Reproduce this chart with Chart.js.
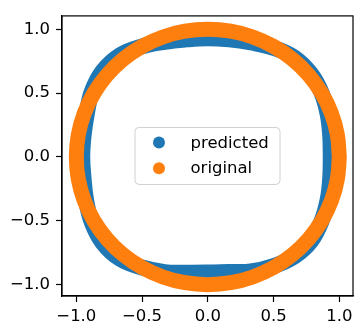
<!DOCTYPE html>
<html>
<head>
<meta charset="utf-8">
<script src="https://cdn.jsdelivr.net/npm/chart.js@4/dist/chart.umd.min.js"></script>
<style>
  html, body { margin: 0; padding: 0; background: #fff; }
  #wrap { width: 363px; height: 332px; }
</style>
</head>
<body>
<div id="wrap"><canvas id="myScatter"></canvas></div>
<script>
// values, going round anticlockwise from the right
var predictedX = [0.935, 0.931, 0.912, 0.866, 0.781, 0.656, 0.495, 0.327, 0.162, 0.000,
                  -0.162, -0.328, -0.500, -0.668, -0.800, -0.883, -0.921, -0.945, -0.955,
                  -0.945, -0.926, -0.883, -0.800, -0.668, -0.500, -0.328, -0.160, 0.000,
                  0.158, 0.327, 0.495, 0.656, 0.785, 0.866, 0.912, 0.931, 0.935];
var predictedY = [0.000, 0.164, 0.332, 0.500, 0.656, 0.781, 0.857, 0.897, 0.921, 0.930,
                  0.921, 0.902, 0.866, 0.797, 0.672, 0.510, 0.335, 0.167, 0.000,
                  -0.167, -0.337, -0.510, -0.672, -0.797, -0.866, -0.902, -0.906, -0.905,
                  -0.901, -0.897, -0.857, -0.781, -0.659, -0.500, -0.332, -0.164, 0.000];

var originalX = [1.000, 0.985, 0.940, 0.866, 0.766, 0.643, 0.500, 0.342, 0.174, 0.000,
                 -0.174, -0.342, -0.500, -0.643, -0.766, -0.866, -0.940, -0.985, -1.000,
                 -0.985, -0.940, -0.866, -0.766, -0.643, -0.500, -0.342, -0.174, 0.000,
                 0.174, 0.342, 0.500, 0.643, 0.766, 0.866, 0.940, 0.985, 1.000];
var originalY = [0.000, 0.174, 0.342, 0.500, 0.643, 0.766, 0.866, 0.940, 0.985, 1.000,
                 0.985, 0.940, 0.866, 0.766, 0.643, 0.500, 0.342, 0.174, 0.000,
                 -0.174, -0.342, -0.500, -0.643, -0.766, -0.866, -0.940, -0.985, -1.000,
                 -0.985, -0.940, -0.866, -0.766, -0.643, -0.500, -0.342, -0.174, 0.000];

var seriesNames = ["predicted", "original"];
var seriesColors = ["#1f77b4", "#ff7f0e"];
var tickValues = [-1.0, -0.5, 0.0, 0.5, 1.0];

function toPoints(xs, ys) {
    return xs.map(function (x, i) { return { x: x, y: ys[i] }; });
}

var FONT = "'DejaVu Sans', sans-serif";

// legend in the middle of the axes, like matplotlib's loc="best" here
var centerLegend = {
    id: 'centerLegend',
    afterDraw: function (chart) {
        var c = chart.ctx, a = chart.chartArea;
        var w = 145, h = 57;
        var cx = (a.left + a.right) / 2, cy = (a.top + a.bottom) / 2;
        var x0 = cx - w / 2, y0 = cy - h / 2;
        c.save();
        c.beginPath();
        c.roundRect(x0, y0, w, h, 4);
        c.fillStyle = 'rgba(255,255,255,0.8)';
        c.fill();
        c.strokeStyle = '#d0d0d0';
        c.lineWidth = 1;
        c.stroke();
        c.font = '16.5px ' + FONT;
        c.textBaseline = 'middle';
        c.textAlign = 'left';
        seriesNames.forEach(function (name, i) {
            var ly = y0 + 15 + i * 25.7;
            c.beginPath();
            c.arc(x0 + 24, ly, 6, 0, Math.PI * 2);
            c.fillStyle = seriesColors[i];
            c.fill();
            c.fillStyle = '#000';
            c.fillText(name, x0 + 55.5, ly + 1);
        });
        c.restore();
    }
};

// the other two spines
var frame = {
    id: 'frame',
    afterDraw: function (chart) {
        var c = chart.ctx, a = chart.chartArea;
        c.save();
        c.strokeStyle = '#000';
        c.lineWidth = 1.2;
        c.strokeRect(a.left, a.top, a.right - a.left, a.bottom - a.top);
        c.restore();
    }
};

function fmt(v) {
    return (v < 0 ? '\u2212' : '') + Math.abs(v).toFixed(1);
}

var ctx = document.getElementById('myScatter').getContext('2d');
var chart = new Chart(ctx, {
    type: 'scatter',
    data: {
        datasets: [{
            label: seriesNames[0],
            data: toPoints(predictedX, predictedY),
            borderColor: seriesColors[0],
            backgroundColor: seriesColors[0],
            showLine: true,
            tension: 0.4,
            borderWidth: 16,
            borderJoinStyle: 'round',
            borderCapStyle: 'round',
            pointRadius: 0,
            order: 2
        }, {
            label: seriesNames[1],
            data: toPoints(originalX, originalY),
            borderColor: seriesColors[1],
            backgroundColor: seriesColors[1],
            showLine: true,
            tension: 0.4,
            borderWidth: 15,
            borderJoinStyle: 'round',
            borderCapStyle: 'round',
            pointRadius: 0,
            order: 1
        }]
    },
    options: {
        responsive: true,
        maintainAspectRatio: false,
        animation: false,
        events: [],
        layout: { padding: { top: 8, right: 10, left: 0, bottom: 0 } },
        plugins: {
            legend: { display: false },
            tooltip: { enabled: false }
        },
        scales: {
            x: {
                type: 'linear',
                min: -1.109,
                max: 1.104,
                afterBuildTicks: function (s) { s.ticks = tickValues.map(function (v) { return { value: v }; }); },
                afterFit: function (s) { s.height = 36; },
                grid: { drawOnChartArea: false, tickLength: 6, tickColor: '#000', tickWidth: 1.2 },
                border: { color: '#000', width: 1.2 },
                ticks: {
                    callback: fmt, color: '#000', padding: 5, maxRotation: 0,
                    font: { family: FONT, size: 16.5 }
                }
            },
            y: {
                type: 'linear',
                min: -1.089,
                max: 1.105,
                afterBuildTicks: function (s) { s.ticks = tickValues.map(function (v) { return { value: v }; }); },
                afterFit: function (s) { s.width = 62; },
                grid: { drawOnChartArea: false, tickLength: 6, tickColor: '#000', tickWidth: 1.2 },
                border: { color: '#000', width: 1.2 },
                ticks: {
                    callback: fmt, color: '#000', padding: 6,
                    font: { family: FONT, size: 16.5 }
                }
            }
        }
    },
    plugins: [frame, centerLegend]
});
</script>
</body>
</html>
